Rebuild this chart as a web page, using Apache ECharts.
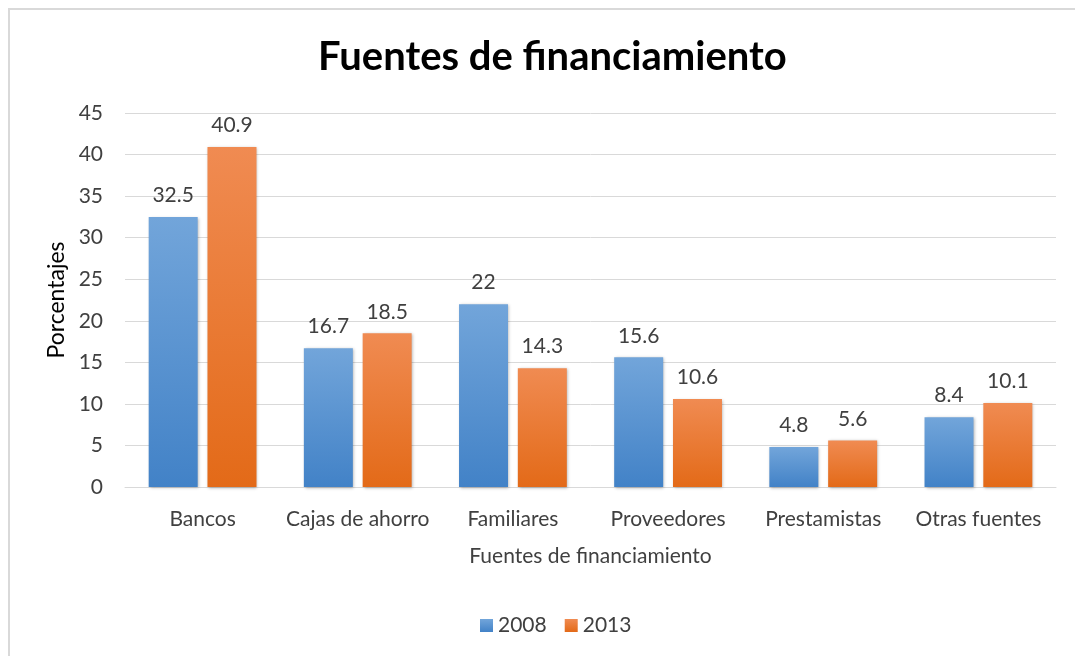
<!DOCTYPE html>
<html>
<head>
<meta charset="utf-8">
<script src="https://cdn.jsdelivr.net/npm/echarts@6/dist/echarts.min.js"></script>
<style>
    html, body { margin: 0; padding: 0; background: #fff; }
    #frame {
        position: absolute; left: 8px; top: 8px; width: 1067px; height: 648px;
        border-top: 2px solid #d9d9d9; border-left: 2px solid #d9d9d9;
    }
    #main { position: absolute; left: 0; top: 0; width: 1075px; height: 656px; }
</style>
</head>
<body>
<div id="frame"></div>
<div id="main"></div>
<script>
// datos del gráfico
var categorias = ['Bancos', 'Cajas de ahorro', 'Familiares', 'Proveedores', 'Prestamistas', 'Otras fuentes'];
var anio2008 = [32.5, 16.7, 22, 15.6, 4.8, 8.4];
var anio2013 = [40.9, 18.5, 14.3, 10.6, 5.6, 10.1];
var ticksY = [0, 5, 10, 15, 20, 25, 30, 35, 40, 45];

var fuente = 'Lato, "Open Sans", sans-serif';
var gris = '#404040';
var tam = 21;

var myChart = echarts.init(document.getElementById('main'));

var azul = new echarts.graphic.LinearGradient(0, 0, 0, 1, [
    {offset: 0, color: '#72a5da'},
    {offset: 1, color: '#4282c7'}
]);
var naranja = new echarts.graphic.LinearGradient(0, 0, 0, 1, [
    {offset: 0, color: '#f08b52'},
    {offset: 1, color: '#e36a18'}
]);

var etiqueta = {
    show: true,
    position: 'top',
    distance: 11,
    fontFamily: fuente,
    fontSize: tam,
    color: gris
};

var option = {
    backgroundColor: 'transparent',
    textStyle: { fontFamily: fuente },
    title: {
        text: 'Fuentes de financiamiento',
        left: 313,
        top: 32,
        textStyle: { fontFamily: fuente, fontSize: 40, fontWeight: 'bold', color: '#000' }
    },
    legend: {
        data: ['2008', '2013'],
        bottom: 15,
        left: 475,
        icon: 'rect',
        itemWidth: 13,
        itemHeight: 13,
        itemGap: 18,
        textStyle: { fontFamily: fuente, fontSize: tam, color: gris }
    },
    grid: {
        left: 125,
        right: 19,
        top: 113,
        bottom: 169,
        containLabel: false
    },
    xAxis: {
        type: 'category',
        data: categorias,
        name: 'Fuentes de financiamiento',
        nameLocation: 'middle',
        nameGap: 59,
        nameTextStyle: { fontFamily: fuente, fontSize: tam, color: gris },
        axisLine: { lineStyle: { color: '#d9d9d9', width: 1 } },
        axisTick: { show: false },
        axisLabel: { fontFamily: fuente, fontSize: tam, color: gris, margin: 22, interval: 0 }
    },
    yAxis: {
        type: 'value',
        min: ticksY[0],
        max: ticksY[ticksY.length - 1],
        interval: 5,
        name: 'Porcentajes',
        nameLocation: 'middle',
        nameGap: 51,
        nameRotate: 90,
        nameTextStyle: { fontFamily: fuente, fontSize: 23, color: '#000' },
        axisLine: { show: false },
        axisTick: { show: false },
        axisLabel: { fontFamily: fuente, fontSize: tam, color: gris, margin: 22 },
        splitLine: { lineStyle: { color: '#d9d9d9', width: 1 } }
    },
    series: [
        {
            name: '2008',
            type: 'bar',
            data: anio2008,
            barWidth: 49,
            barGap: '20%',
            itemStyle: { color: azul, shadowBlur: 3, shadowColor: 'rgba(0,0,0,0.3)', shadowOffsetX: 1, shadowOffsetY: 1 },
            label: etiqueta
        },
        {
            name: '2013',
            type: 'bar',
            data: anio2013,
            barWidth: 49,
            barGap: '20%',
            itemStyle: { color: naranja, shadowBlur: 3, shadowColor: 'rgba(0,0,0,0.3)', shadowOffsetX: 1, shadowOffsetY: 1 },
            label: etiqueta
        }
    ],
    color: ['#5b9bd5', '#ed7d31'],
    animation: false
};

myChart.setOption(option);
</script>
</body>
</html>
